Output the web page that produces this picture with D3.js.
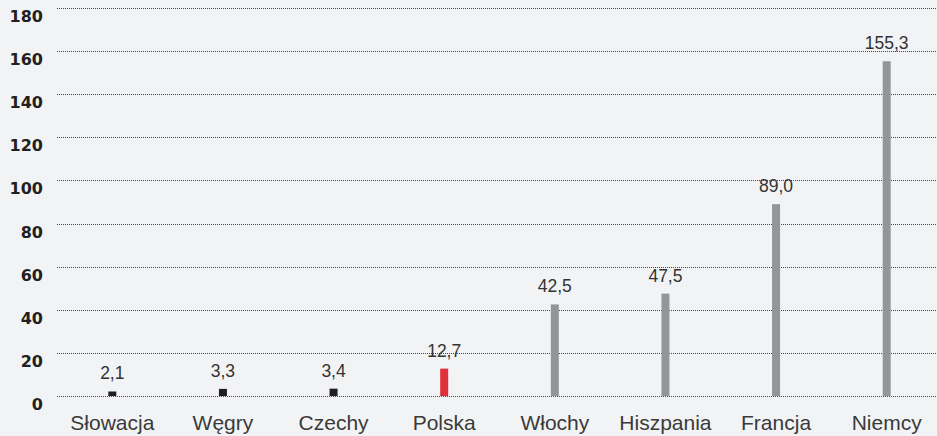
<!DOCTYPE html>
<html lang="pl">
<head>
  <meta charset="UTF-8">
  <title>Wykres</title>
  <script src="https://d3js.org/d3.v7.min.js"></script>
  <style>
    body { margin:0; background:#f2f3f5; }
    svg { display:block; }
  </style>
</head>
<body>
  <svg width="937" height="436"></svg>
  <script>
    const countries = ['Słowacja', 'Węgry', 'Czechy', 'Polska', 'Włochy', 'Hiszpania', 'Francja', 'Niemcy']
    const values = [2.1, 3.3, 3.4, 12.7, 42.5, 47.5, 89.0, 155.3]
    const groups = ['dark', 'dark', 'dark', 'red', 'grey', 'grey', 'grey', 'grey']
    const yTicks = [0, 20, 40, 60, 80, 100, 120, 140, 160, 180]

    const colors = {dark: '#231f20', red: '#e0313b', grey: '#939598'}
    const width = 937
    const height = 436
    const margin = {top: 8, bottom: 40, left: 57, right: -5}
    const labelFont = '"Liberation Sans", Arial, sans-serif'
    const tickFont = '"DejaVu Sans", sans-serif'
    const svg = d3.select('svg')

    const data = countries.map((c, i) => ({name: c, value: values[i], group: groups[i]}))

    const x = d3.scaleBand()
      .domain(countries)
      .range([margin.left, width - margin.right])
    const y = d3.scaleLinear()
      .domain([0, 180])
      .range([height - margin.bottom, margin.top])

    // dotted gridlines
    svg.append('g')
      .selectAll('line')
      .data(yTicks)
      .enter()
      .append('line')
      .attr('x1', margin.left)
      .attr('x2', width)
      .attr('y1', d => Math.round(y(d)) + 0.5)
      .attr('y2', d => Math.round(y(d)) + 0.5)
      .attr('stroke', '#444')
      .attr('stroke-width', 1)
      .attr('stroke-dasharray', '1,1')

    // y labels sit just below each line
    svg.append('g')
      .selectAll('text')
      .data(yTicks)
      .enter()
      .append('text')
      .attr('x', 43)
      .attr('y', d => y(d) + 14)
      .attr('text-anchor', 'end')
      .attr('font-family', tickFont)
      .attr('font-weight', 'bold')
      .attr('font-size', 16)
      .attr('fill', '#231f20')
      .text(d => d)

    const barW = 8
    svg.append('g')
      .selectAll('rect')
      .data(data)
      .enter()
      .append('rect')
      .attr('x', d => x(d.name) + x.bandwidth() / 2 - barW / 2)
      .attr('width', barW)
      .attr('y', d => y(d.value))
      .attr('height', d => y(0) - y(d.value))
      .attr('fill', d => colors[d.group])

    const fmt = v => v.toFixed(1).replace('.', ',')
    svg.append('g')
      .selectAll('text')
      .data(data)
      .enter()
      .append('text')
      .attr('x', d => x(d.name) + x.bandwidth() / 2)
      .attr('y', d => y(d.value) - 12)
      .attr('text-anchor', 'middle')
      .attr('font-family', labelFont)
      .attr('font-size', 17.5)
      .attr('fill', '#333')
      .text(d => fmt(d.value))

    const xAxis = d3.axisBottom(x).tickSize(0).tickPadding(0)
    const gx = svg.append('g')
      .attr('transform', 'translate(0,' + (height - margin.bottom) + ')')
      .call(xAxis)
    gx.select('.domain').remove()
    gx.selectAll('text')
      .attr('y', 34)
      .attr('dy', 0)
      .attr('font-family', labelFont)
      .attr('font-size', 21)
      .attr('fill', '#3a3a3a')
  </script>
</body>
</html>
